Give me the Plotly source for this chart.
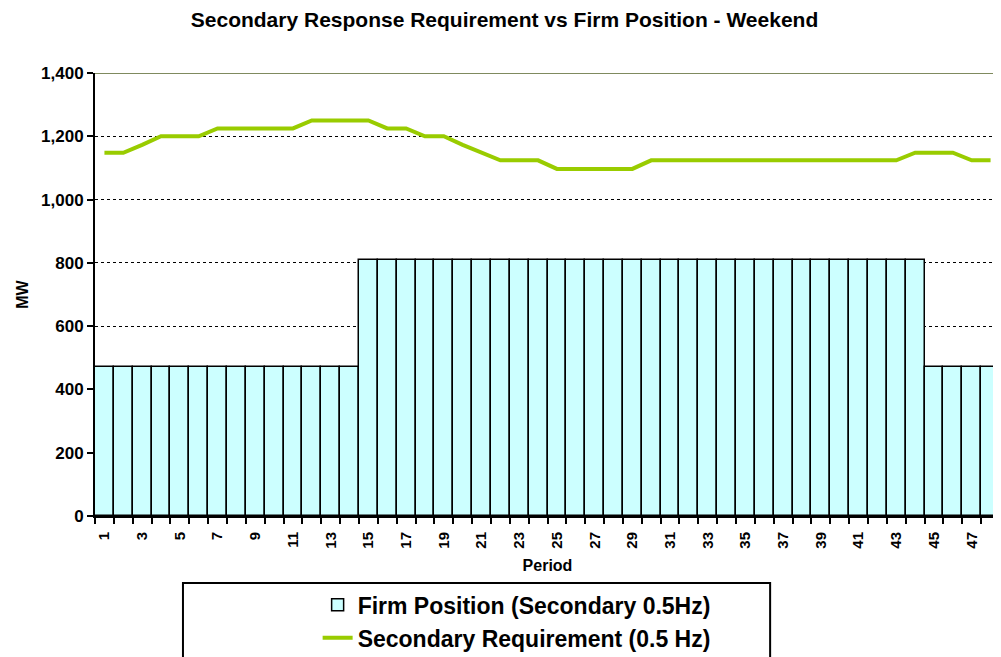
import plotly.graph_objects as go

# periods 1..48 of the weekend
periods = list(range(1, 49))

# firm position (secondary 0.5Hz), MW
firm_position = [470] * 14 + [810] * 30 + [470] * 4

# secondary requirement (0.5 Hz), MW
requirement = [
    1148, 1148, 1173, 1200, 1200, 1200, 1225, 1225, 1225, 1225, 1225, 1250,
    1250, 1250, 1250, 1225, 1225, 1200, 1200, 1173, 1148, 1124, 1124, 1124,
    1097, 1097, 1097, 1097, 1097, 1124, 1124, 1124, 1124, 1124, 1124, 1124,
    1124, 1124, 1124, 1124, 1124, 1124, 1124, 1148, 1148, 1148, 1124, 1124,
]

y_ticks = [0, 200, 400, 600, 800, 1000, 1200, 1400]
x_tick_labels = [p for p in periods if p % 2 == 1]

FONT = "Arial, Liberation Sans, sans-serif"

fig = go.Figure()

fig.add_trace(go.Bar(
    x=periods,
    y=firm_position,
    name="Firm Position (Secondary 0.5Hz)",
    marker=dict(color="#CCFFFF", line=dict(color="black", width=1.5)),
    legendgroup="a",
))

fig.add_trace(go.Scatter(
    x=periods,
    y=requirement,
    name="Secondary Requirement (0.5 Hz)",
    mode="lines",
    line=dict(color="#99CC00", width=4),
    legendgroup="b",
))

# legend frame, wider than the legend itself
fig.add_shape(type="rect", xref="paper", yref="paper",
              x0=0.0972, x1=0.746, y0=-0.36, y1=-0.1512,
              line=dict(color="black", width=2), fillcolor="rgba(0,0,0,0)")

# top border line at 1,400
fig.add_shape(type="line", xref="paper", yref="y",
              x0=0, x1=1, y0=1400, y1=1400,
              line=dict(color="#7f8a5e", width=2))

# page body adds an 8px margin, so the figure is a little smaller
fig.update_layout(
    width=993,
    height=649,
    margin=dict(l=87, r=1, t=65, b=141, autoexpand=False),
    paper_bgcolor="white",
    plot_bgcolor="white",
    bargap=0,
    font=dict(family=FONT, color="black"),
    title=dict(
        text="<b>Secondary Response Requirement vs Firm Position - Weekend</b>",
        x=0.5, xanchor="center", y=0.982, yanchor="middle",
        font=dict(size=21, family=FONT, color="black"),
    ),
    showlegend=True,
    legend=dict(
        x=0.246, xanchor="left",
        y=-0.152, yanchor="top",
        font=dict(size=23, family=FONT, color="black", weight="bold"),
        bgcolor="rgba(0,0,0,0)",
        borderwidth=0,
        tracegroupgap=4,
        traceorder="normal",
    ),
    xaxis=dict(
        range=[0.5, 48.5],
        tickmode="array",
        tickvals=x_tick_labels,
        ticktext=[str(v) for v in x_tick_labels],
        tickangle=-90,
        ticks="outside",
        ticklen=8,
        tickcolor="rgba(0,0,0,0)",
        showgrid=False,
        showline=True,
        linecolor="black",
        linewidth=2,
        automargin=False,
        tickfont=dict(size=15, family=FONT, weight="bold"),
        minor=dict(
            tickmode="array",
            tickvals=[p + 0.5 for p in [0] + periods],
            ticks="outside",
            ticklen=6,
            tickwidth=2,
            tickcolor="black",
            showgrid=False,
        ),
        title=dict(text="<b>Period</b>", font=dict(size=16, family=FONT), standoff=12),
        zeroline=False,
    ),
    yaxis=dict(
        range=[0, 1400],
        tickmode="array",
        tickvals=y_ticks,
        tickformat=",d",
        ticks="outside",
        ticklen=6,
        tickwidth=2,
        tickcolor="black",
        showline=True,
        linecolor="black",
        linewidth=2,
        automargin=False,
        showgrid=True,
        gridcolor="black",
        gridwidth=1,
        griddash="dot",
        tickfont=dict(size=17, family=FONT, weight="bold"),
        title=dict(text="<b>MW</b>", font=dict(size=16, family=FONT), standoff=8),
        zeroline=False,
    ),
)

fig.write_html("out.html")
